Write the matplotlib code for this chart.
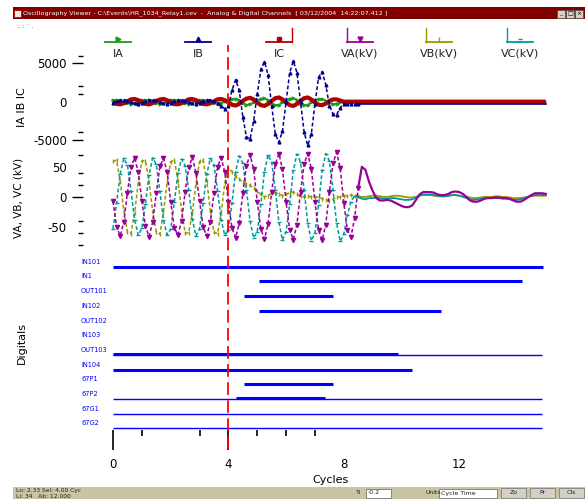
import numpy as np
import matplotlib
matplotlib.use("Agg")
import matplotlib.pyplot as plt
from matplotlib.lines import Line2D
from matplotlib.patches import Rectangle
from matplotlib.ticker import FixedLocator
from matplotlib.transforms import blended_transform_factory

plt.rcParams['font.family'] = ['DejaVu Sans']

W, H = 585, 499
SAMPLES_PER_CYCLE = 8
CURSOR = 4.0
STEADY_FROM = 8.5   # after this the traces are drawn as plain lines

# ---------------- analog data (one row = one cycle, 8 samples) ----------------
ia = [
    200, 250, 150, -50, -200, -250, -150, 50,
    210, 240, 160, -40, -210, -240, -160, 40,
    190, 260, 140, -60, -190, -260, -140, 60,
    200, 250, 150, -50, -200, -250, -150, 50,
    150, 350, 400, 200, -200, -400, -350, -50,
    200, 400, 450, 200, -250, -450, -400, -100,
    200, 400, 450, 250, -250, -450, -400, -100,
    150, 350, 350, 150, -150, -300, -250, -50,
    0, 0, 0, 0, 0, 0, 0, 0,
    0, 0, 0, 0, 0, 0, 0, 0,
    0, 0, 0, 0, 0, 0, 0, 0,
    0, 0, 0, 0, 0, 0, 0, 0,
    0, 0, 0, 0, 0, 0, 0, 0,
    0, 0, 0, 0, 0, 0, 0, 0,
    0, 0, 0, 0, 0, 0, 0, 0,
    0]
ib = [
    -150, 50, 200, 250, 150, -50, -200, -250,
    -160, 40, 210, 240, 160, -40, -210, -240,
    -140, 60, 190, 260, 140, -60, -190, -260,
    -150, 50, 200, 250, 100, -200, -600, -900,
    -500, 1500, 2850, 1500, -2000, -4600, -4900, -2500,
    1000, 4200, 5200, 3500, -500, -4200, -5300, -3800,
    0, 3800, 5300, 3800, 0, -4000, -5700, -4200,
    -300, 3200, 3900, 2200, -500, -1600, -1700, -800,
    -250, -250, -250, -250, -250, -250, -250, -250,
    -250, -250, -250, -250, -250, -250, -250, -250,
    -250, -250, -250, -250, -250, -250, -250, -250,
    -250, -250, -250, -250, -250, -250, -250, -250,
    -250, -250, -250, -250, -250, -250, -250, -250,
    -250, -250, -250, -250, -250, -250, -250, -250,
    -250, -250, -250, -250, -250, -250, -250, -250,
    -250]
ic = [
    -50, -300, -350, -200, 50, 300, 350, 200,
    -60, -290, -360, -190, 60, 290, 360, 190,
    -40, -310, -340, -210, 40, 310, 340, 210,
    -50, -300, -350, -200, 50, 300, 350, 200,
    -100, -400, -500, -300, 100, 400, 500, 300,
    -100, -450, -550, -300, 100, 450, 550, 300,
    -100, -450, -550, -300, 100, 450, 550, 300,
    -100, -400, -450, -250, 100, 300, 300, 150,
    0, 0, 0, 0, 0, 0, 0, 0,
    0, 0, 0, 0, 0, 0, 0, 0,
    0, 0, 0, 0, 0, 0, 0, 0,
    0, 0, 0, 0, 0, 0, 0, 0,
    0, 0, 0, 0, 0, 0, 0, 0,
    0, 0, 0, 0, 0, 0, 0, 0,
    0, 0, 0, 0, 0, 0, 0, 0,
    0]
va = [
    -7, -50, -65, -41, 7, 50, 65, 41,
    -6, -49, -66, -42, 6, 51, 64, 42,
    -8, -51, -64, -40, 8, 49, 66, 40,
    -7, -50, -65, -41, 6, 50, 65, 41,
    -8, -52, -68, -44, 6, 52, 70, 46,
    -8, -54, -70, -45, 8, 54, 72, 46,
    -9, -55, -71, -46, 8, 55, 72, 47,
    -9, -55, -72, -46, 8, 56, 74, 48,
    -10, -55, -66, -35, 15, 50, 45, 25,
    10, -2, -6, -6, -5, -6, -9, -12,
    -15, -17, -17, -14, -5, 4, 8, 8,
    8, 7, 4, 3, 3, 5, 8, 9,
    8, 5, 0, -6, -8, -8, -6, -3,
    -2, -2, -1, -1, -2, -2, -3, -6,
    -8, -8, -5, -1, 3, 6, 6, 6,
    5]
vb = [
    59, 61, 26, -23, -59, -61, -26, 23,
    60, 60, 25, -24, -58, -62, -25, 24,
    58, 62, 27, -22, -60, -60, -27, 22,
    59, 61, 26, -23, -59, -61, -26, 23,
    48, 42, 34, 30, 24, 22, 19, 15,
    10, 4, 0, 2, 6, 7, 5, 2,
    4, 7, 8, 5, 1, 0, 1, 0,
    -1, 0, -3, -5, -6, -4, -1, 0,
    1, 2, 3, 2, 1, 0, 0, 1,
    2, 2, 1, 0, 0, 1, 2, 2,
    1, 0, -1, -1, 0, 2, 3, 3,
    3, 2, 1, 1, 1, 2, 3, 3,
    2, 1, 0, -1, -2, -2, -1, 0,
    0, 0, 1, 1, 0, 0, -1, -2,
    -2, -2, -1, 0, 1, 2, 2, 2,
    2]
vc = [
    -53, -10, 38, 64, 53, 10, -38, -64,
    -52, -11, 37, 65, 54, 9, -39, -63,
    -54, -9, 39, 63, 52, 11, -37, -65,
    -53, -10, 38, 64, 53, 10, -38, -64,
    -55, -10, 42, 68, 56, 12, -40, -68,
    -58, -12, 42, 70, 58, 12, -42, -72,
    -58, -12, 44, 71, 58, 12, -44, -73,
    -60, -14, 44, 72, 60, 12, -44, -74,
    -62, -30, -8, 2, 0, -3, -4, -2,
    -2, -1, -2, -3, -3, -2, -2, -3,
    -4, -5, -5, -4, -1, 2, 4, 4,
    4, 3, 2, 1, 1, 2, 3, 3,
    2, 0, -2, -4, -5, -4, -3, -2,
    -2, -2, -2, -2, -3, -3, -4, -5,
    -5, -4, -2, 0, 2, 3, 3, 3,
    3]

# ---------------- digital data ----------------
dig_names = ["IN101", "IN1", "OUT101", "IN102", "OUT102", "IN103",
             "OUT103", "IN104", "67P1", "67P2", "67G1", "67G2"]
dig_on = [[(0.0, 14.9)], [(5.05, 14.17)], [(4.54, 7.64)], [(5.05, 11.36)],
          [], [], [(0.0, 9.87)], [(0.0, 10.37)], [(4.54, 7.64)],
          [(4.26, 7.36)], [], []]
dig_baseline = [False, False, False, False, False, False,
                True, False, False, True, True, True]
RECORD_END = 14.87

x_major = [0, 4, 8, 12]
x_minor = [1, 3, 5, 6, 7]

# ---------------- colours ----------------
C_IA, C_IB, C_IC = '#1a991a', '#00008c', '#b00000'
C_VA, C_VB, C_VC = '#990099', '#999900', '#009999'
C_DIG = '#0000ff'

fig = plt.figure(figsize=(W / 100, H / 100), dpi=100)
fig.patch.set_facecolor('white')


def rect(l, t, r, b):
    return [l / W, 1 - b / H, (r - l) / W, (b - t) / H]


def fx(x):
    return x / W


def fy(y):
    return 1 - y / H


XMAX = 15.05
LEFT, RIGHT = 113, 113 + XMAX * 28.85

ax_i = fig.add_axes(rect(LEFT, 47, RIGHT, 152))
ax_v = fig.add_axes(rect(LEFT, 153, RIGHT, 248))
ax_d = fig.add_axes(rect(LEFT, 255, RIGHT, 429.8))
ax_c = fig.add_axes(rect(LEFT, 45, RIGHT, 449))

for ax in (ax_i, ax_v, ax_d, ax_c):
    ax.set_xlim(0, XMAX)
    ax.patch.set_alpha(0)
    for s in ax.spines.values():
        s.set_visible(False)


def trace(ax, values, color, marker, ms, z, lw_pre=1.1, lw_post=1.3):
    tt = np.arange(len(values)) / SAMPLES_PER_CYCLE
    vv = np.asarray(values, dtype=float)
    k = int(np.searchsorted(tt, STEADY_FROM))
    ax.plot(tt[:k + 1], vv[:k + 1], color=color, lw=lw_pre, ls=(0, (2.5, 1.5)),
            marker=marker, ms=ms, zorder=z, clip_on=False)
    ax.plot(tt[k:], vv[k:], color=color, lw=lw_post, zorder=z, clip_on=False)


# ---------------- current panel ----------------
ax_i.plot(np.arange(len(ia)) / SAMPLES_PER_CYCLE, ia, color=C_IA, lw=1.2,
          marker='>', ms=2, markevery=slice(0, 64), zorder=2, clip_on=False)
ax_i.plot(np.arange(len(ic)) / SAMPLES_PER_CYCLE, ic, color=C_IC, lw=3.0,
          zorder=3, clip_on=False, solid_capstyle='butt')
trace(ax_i, ib, C_IB, '^', 2, 4, lw_pre=1.1, lw_post=1.2)
ax_i.set_ylim(-6560, 7130)

# ---------------- voltage panel ----------------
trace(ax_v, vb, C_VB, '|', 3, 2)
trace(ax_v, vc, C_VC, '_', 3.5, 3)
trace(ax_v, va, C_VA, 'v', 3, 4, lw_post=1.6)
ax_v.set_ylim(-85, 73)

for ax, maj, mnr, hide in (
        (ax_i, [5000, 0, -5000], [6000, 2000, 1000, -4000], [0]),
        (ax_v, [50, 0, -50], [70, 40, 20, -40, -60, -80], [50, -50])):
    ax.spines['left'].set_position(('outward', 21.6))
    ax.yaxis.set_major_locator(FixedLocator(maj))
    ax.yaxis.set_minor_locator(FixedLocator(mnr))
    ax.set_yticklabels([str(v) for v in maj])
    ax.tick_params(axis='y', which='major', length=8, width=1.0, pad=3.6,
                   labelsize=8.5, direction='out')
    ax.tick_params(axis='y', which='minor', length=3.5, width=1.0, direction='out')
    ax.tick_params(axis='x', which='both', bottom=False, labelbottom=False)
    for tk, v in zip(ax.yaxis.get_major_ticks(), maj):
        if v in hide:
            tk.tick1line.set_visible(False)

# ---------------- digital panel ----------------
nrow = len(dig_names)
ax_d.set_ylim(-0.1, nrow - 0.2)
for i, name in enumerate(dig_names):
    yv = nrow - 1 - i
    if dig_baseline[i]:
        ax_d.hlines(yv, 0, RECORD_END, color=C_DIG, lw=1.0, clip_on=False)
    for (s, e) in dig_on[i]:
        off = 0.08 if dig_baseline[i] else 0.0
        ax_d.hlines(yv + off, s, e, color=C_DIG, lw=2.2, clip_on=False)
lab_tr = blended_transform_factory(fig.transFigure, ax_d.transData)
for i, name in enumerate(dig_names):
    ax_d.text(fx(81), nrow - 1 - i + 0.34, name, transform=lab_tr,
              fontsize=4.8, color=C_DIG, ha='left', va='center')

ax_d.yaxis.set_visible(False)
ax_d.xaxis.set_major_locator(FixedLocator(x_major))
ax_d.xaxis.set_minor_locator(FixedLocator(x_minor))
ax_d.set_xticklabels([str(v) for v in x_major])
ax_d.tick_params(axis='x', which='major', length=14.5, width=1.2, pad=5.5,
                 labelsize=8.5, direction='out', color='black')
ax_d.tick_params(axis='x', which='minor', length=4.5, width=1.2,
                 direction='out', color='black')
for tk, v in zip(ax_d.xaxis.get_major_ticks(), x_major):
    if v >= 8:
        tk.tick1line.set_visible(False)
ax_d.set_xlabel('Cycles', fontsize=8, labelpad=3)

# ---------------- cursor ----------------
ax_c.set_ylim(0, 1)
ax_c.axis('off')
ax_c.axvline(CURSOR, color='#ff0000', lw=1.3, ls=(0, (7, 3)), zorder=10)

# ---------------- y labels ----------------
fig.text(fx(22), fy(107), 'IA IB IC', rotation=90, ha='center', va='center', fontsize=8)
fig.text(fx(19), fy(198), 'VA, VB, VC (kV)', rotation=90, ha='center', va='center', fontsize=7.5)
fig.text(fx(22), fy(343), 'Digitals', rotation=90, ha='center', va='center', fontsize=8)

# ---------------- legend (line above, label below) ----------------
leg_labels = ['IA', 'IB', 'IC', 'VA(kV)', 'VB(kV)', 'VC(kV)']
leg_colors = [C_IA, C_IB, C_IC, C_VA, C_VB, C_VC]
leg_markers = ['>', '^', 's', 'v', '|', '_']
leg_x = [118, 198, 279, 360, 439, 520]
leg_bar = [None, None, 'right', 'left', 'left', 'left']
for lab, col, mk, xc, bar in zip(leg_labels, leg_colors, leg_markers, leg_x, leg_bar):
    x0, x1 = xc - 13, xc + 13
    fig.add_artist(Line2D([fx(x0), fx(x1)], [fy(42), fy(42)], color=col, lw=1.3))
    fig.add_artist(Line2D([fx(xc)], [fy(39)], color=col, marker=mk, ms=3.5, lw=0))
    if bar == 'right':
        fig.add_artist(Line2D([fx(x1), fx(x1)], [fy(42), fy(28)], color=col, lw=1.0))
    elif bar == 'left':
        fig.add_artist(Line2D([fx(x0), fx(x0)], [fy(42), fy(28)], color=col, lw=1.0))
    fig.text(fx(xc), fy(54), lab, ha='center', va='center', fontsize=8, color='#202020')

# ---------------- window chrome ----------------
fig.add_artist(Rectangle((fx(13), fy(19)), fx(585 - 13), 12 / H, color='#800000', lw=0))
fig.add_artist(Rectangle((fx(14), fy(17)), fx(7), 7 / H, facecolor='#e8e8e8',
                         edgecolor='#c00000', lw=0.6))
fig.text(fx(23), fy(13), r'Oscillography Viewer - C:\Events\HR_1034_Relay1.cev  -  Analog & Digital Channels  [ 03/12/2004  14:22:07.412 ]',
         color='white', fontsize=4.6, va='center', ha='left')
for bx, glyph in zip([557, 566, 575], ['_', '□', '×']):
    fig.add_artist(Rectangle((fx(bx), fy(18)), fx(8), 8 / H, facecolor='#d4d0c8',
                             edgecolor='#404040', lw=0.4))
    fig.text(fx(bx + 4), fy(14), glyph, fontsize=4.5, ha='center', va='center', color='black')
fig.text(fx(18), fy(27), ', : ˙ .', fontsize=4.5, color='#303030', va='center')

fig.add_artist(Rectangle((fx(13), 0), fx(585 - 13), 12 / H, color='#c9c5a2', lw=0))
fig.text(fx(16), fy(490.5), 'Lo: 2.33 Sel: 4.00 Cyc', fontsize=4.3, color='#202020', va='center')
fig.text(fx(16), fy(496), 'Li: 34   Ab: 12.000', fontsize=4.3, color='#202020', va='center')
fig.text(fx(356), fy(493), 'Ti', fontsize=4.5, color='#202020', va='center')
fig.add_artist(Rectangle((fx(366), fy(497.5)), fx(25), 9 / H, facecolor='white',
                         edgecolor='#606060', lw=0.5))
fig.text(fx(368), fy(493), '-0.2', fontsize=4.5, color='#202020', va='center')
fig.text(fx(425), fy(493), 'Units', fontsize=4.3, color='#202020', va='center')
fig.add_artist(Rectangle((fx(439), fy(497.5)), fx(58), 9 / H, facecolor='white',
                         edgecolor='#606060', lw=0.5))
fig.text(fx(441), fy(493), 'Cycle Time', fontsize=4.5, color='#202020', va='center')
for bx, txt in zip([501, 530, 559], ['Zo', 'Pr', 'Cls']):
    fig.add_artist(Rectangle((fx(bx), fy(498)), fx(25), 10 / H, facecolor='#d4d0c8',
                             edgecolor='#707070', lw=0.5))
    fig.text(fx(bx + 12.5), fy(493), txt, fontsize=4.5, color='#202020',
             ha='center', va='center')

fig.savefig('out.png', dpi=100)
